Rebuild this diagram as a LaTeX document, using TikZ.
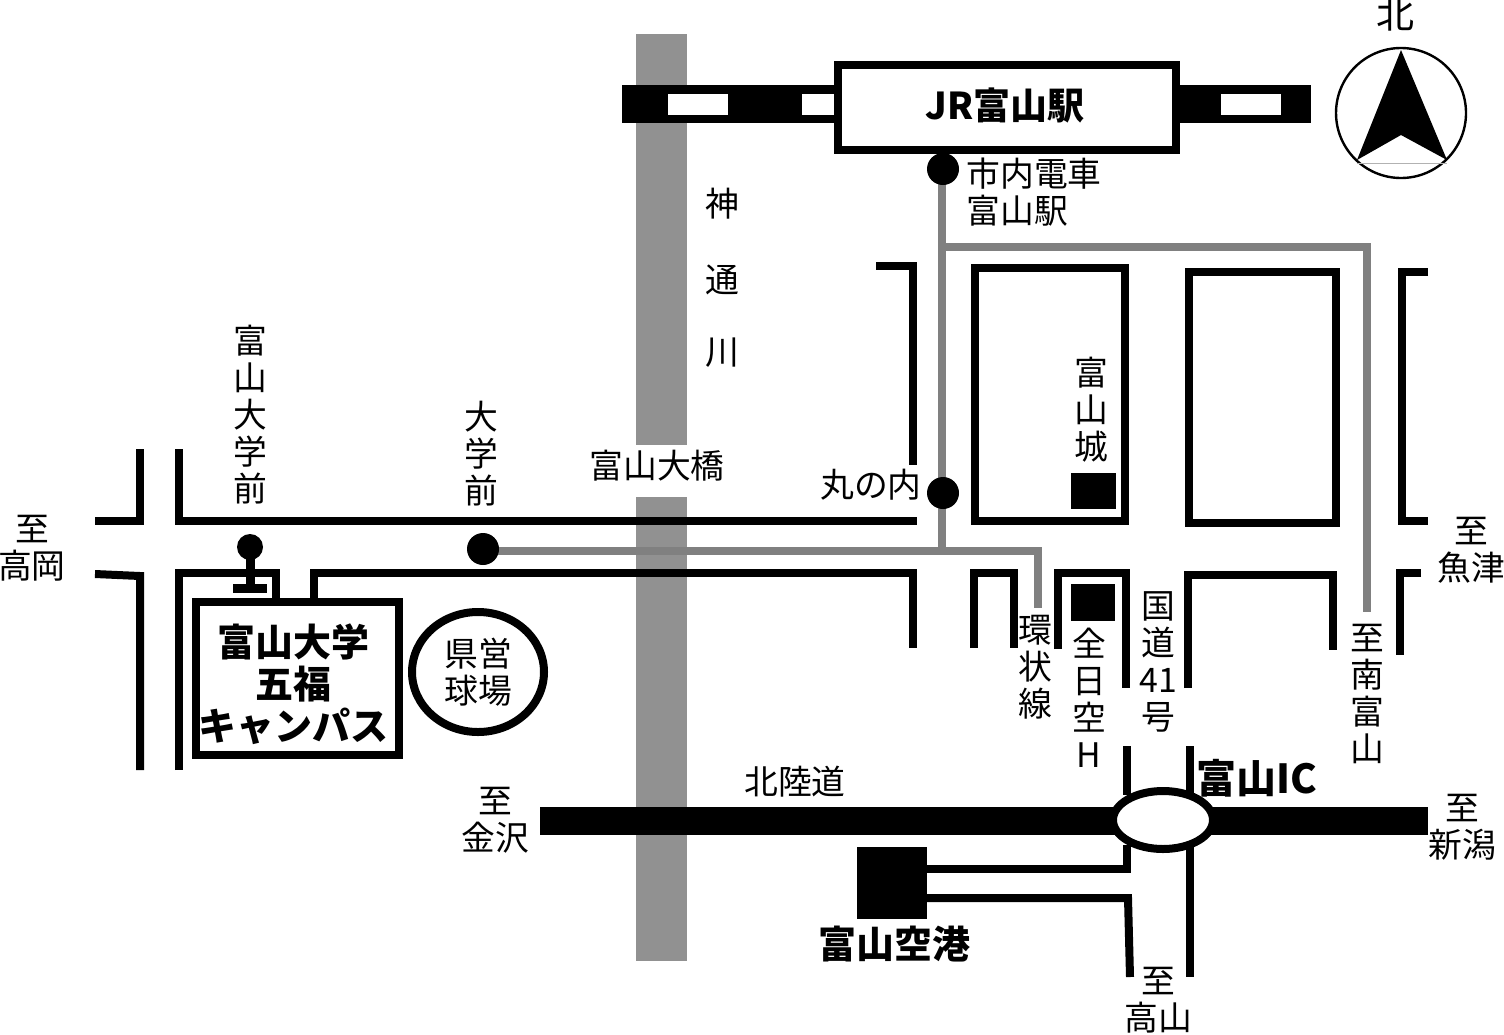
\documentclass[tikz,border=0pt]{standalone}
\usepackage{fontspec}
\setmainfont{Noto Sans CJK JP}
\definecolor{rivergray}{gray}{0.57}
\definecolor{tramgray}{gray}{0.5}
\tikzset{
  road/.style={line width=4pt,miter limit=10},
  tram/.style={line width=4pt,color=tramgray},
  block/.style={fill=black,draw=none},
  stop/.style={fill=black,draw=none},
  place/.style={align=center,inner sep=0pt,font=\fontsize{16.9}{18.5}\selectfont},
  bigplace/.style={align=center,inner sep=0pt,font=\fontsize{19}{21}\selectfont\bfseries}
}
\begin{document}
\begin{tikzpicture}[x=0.5pt,y=-0.5pt]
    \useasboundingbox (0,0) rectangle (1504,1034);
    % river
    \fill[rivergray] (636,34) rectangle (687,445);
    \fill[rivergray] (636,497) rectangle (687,961);
    % railway
    \fill[block] (622,85) rectangle (835,123);
    \fill[block] (1180,85) rectangle (1311,123);
    \fill[white] (668,94) rectangle (728,115);
    \fill[white] (802,94) rectangle (835,115);
    \fill[white] (1221,94) rectangle (1281,115);
    \draw[road,fill=white] (838,65) rectangle (1176,150);
    % compass
    \draw[line width=1.2pt] (1401,113) ellipse (65 and 65);
    \draw[line width=0.4pt,gray!60] (1357,163) -- (1447,163);
    \fill (1401,50) -- (1447,160) -- (1401,135) -- (1357,160) -- cycle;
    % tram
    \draw[tram] (942,169) -- (942,551);
    \draw[tram] (942,247) -- (1367,247) -- (1367,612);
    \draw[tram] (483,551) -- (1038,551) -- (1038,608);
    % west roads
    \draw[road] (95,521) -- (140,521) -- (140,449);
    \draw[road] (179,449) -- (179,521) -- (917,521);
    \draw[road] (95,574) -- (140,576) -- (140,770);
    \draw[road] (179,770) -- (179,573) -- (276,573) -- (276,600);
    \draw[road] (314,600) -- (314,573) -- (913,573) -- (913,648);
    % north roads
    \draw[road] (876,266) -- (913,266) -- (913,465);
    \draw[road] (975,268) rectangle (1125,521);
    \draw[road] (1189,272) rectangle (1336,523);
    \draw[road] (1428,272) -- (1402,272) -- (1402,521) -- (1428,521);
    % south roads
    \draw[road] (974,648) -- (974,573) -- (1014,573) -- (1014,648);
    \draw[road] (1058,649) -- (1058,573) -- (1126,573) -- (1126,688);
    \draw[road] (1188,688) -- (1188,575) -- (1333,575) -- (1333,650);
    \draw[road] (1421,573) -- (1400,573) -- (1400,655);
    % buildings
    \fill[block] (1071,473) rectangle (1116,509);
    \fill[block] (1071,584) rectangle (1115,621);
    \fill[block] (857,847) rectangle (927,919);
    % highway
    \fill[block] (540,807) rectangle (1428,835);
    \draw[road] (1127,746) -- (1127,795);
    \draw[road] (1190,746) -- (1190,795);
    \draw[road] (1190,845) -- (1190,977);
    \draw[road] (1127,845) -- (1127,869) -- (925,869);
    \draw[road] (925,898) -- (1128,898) -- (1130,977);
    \draw[road,fill=white] (1163,820) ellipse (50 and 29);
    % stops
    \fill[stop] (943,169) circle (16);
    \fill[stop] (943,493) circle (16);
    \fill[stop] (483,549) circle (16);
    \fill[stop] (250,547) circle (13);
    \fill[stop] (246,547) rectangle (255,587);
    \fill[stop] (233,584) rectangle (267,593);
    % campus and stadium
    \draw[road,fill=white] (196,602) rectangle (399,755);
    \draw[road] (478,672) ellipse (66 and 60);
    % labels
    \node[bigplace,font=\fontsize{18.5}{21}\selectfont\bfseries] (jrstation) at (1005,105) {JR富山駅};
    \node[bigplace] (campus) at (293,684) {富山大学\\五福\\キャンパス};
    \node[bigplace,font=\fontsize{20}{21}\selectfont\bfseries] (ic) at (1257,778) {富山IC};
    \node[bigplace] (airport) at (894,944) {富山空港};
    \node[place] (stadium) at (478,672) {県営\\球場};
    \node[place,font=\fontsize{19}{21}\selectfont] (north) at (1395,14) {北};
    \node[place,anchor=west,align=left] (tramstation) at (966,192) {市内電車\\富山駅};
    \node[place] (riverone) at (722,204) {神};
    \node[place] (rivertwo) at (722,280) {通};
    \node[place] (riverthree) at (722,353) {川};
    \node[place] (bridge) at (657,466) {富山大橋};
    \node[place] (unistop) at (250,415) {富\\山\\大\\学\\前};
    \node[place] (daigakumae) at (481,454) {大\\学\\前};
    \node[place] (takaoka) at (32,548) {至\\高岡};
    \node[place] (marunouchi) at (871,485) {丸の内};
    \node[place] (castle) at (1091,410) {富\\山\\城};
    \node[place] (uozu) at (1471,550) {至\\魚津};
    \node[place] (loop) at (1035,667) {環\\状\\線};
    \node[place] (ana) at (1089,698) {全\\日\\空\\H};
    \node[place] (routeroad) at (1158,662) {国\\道\\41\\号};
    \node[place] (minami) at (1367,694) {至\\南\\富\\山};
    \node[place] (hokuriku) at (795,782) {北陸道};
    \node[place] (kanazawa) at (495,820) {至\\金沢};
    \node[place] (niigata) at (1462,827) {至\\新潟};
    \node[place] (takayama) at (1158,1000) {至\\高山};
\end{tikzpicture}
\end{document}
